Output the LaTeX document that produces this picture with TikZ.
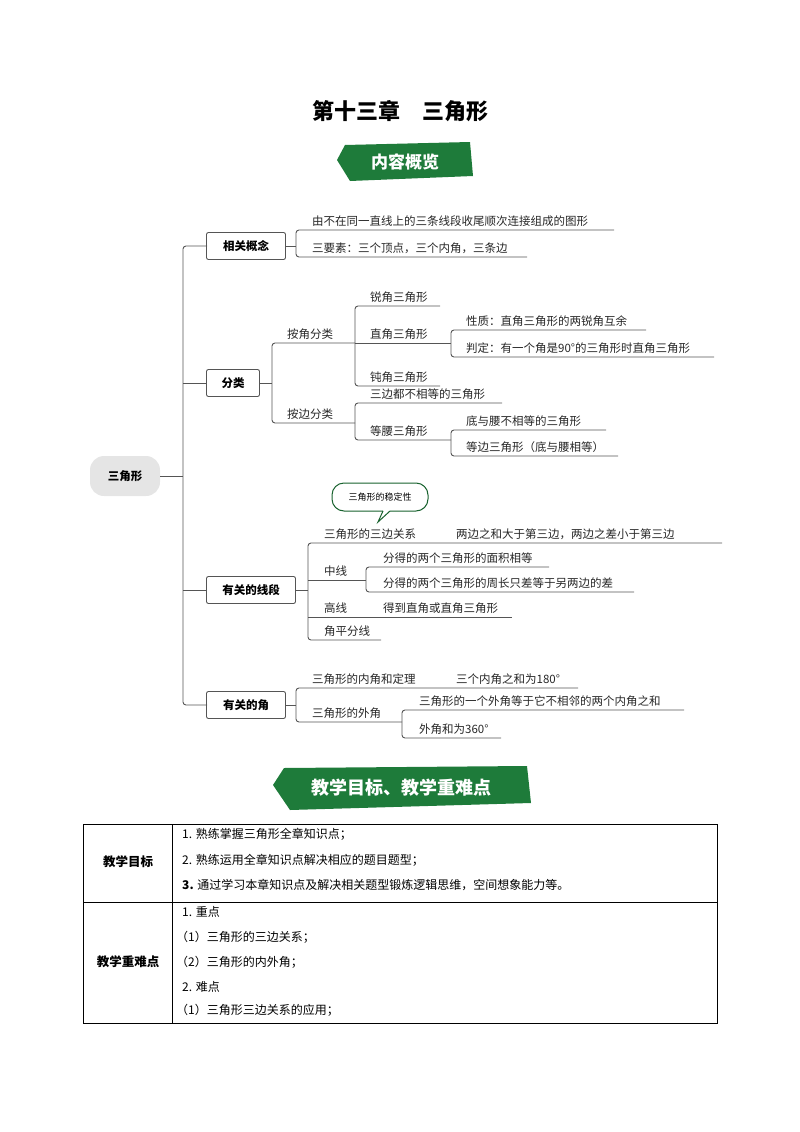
\documentclass[tikz,border=0pt]{standalone}
\usepackage{fontspec}
\setmainfont{Noto Sans CJK SC}
\definecolor{gr}{HTML}{1E7B3A}
\definecolor{ln}{HTML}{555555}
\begin{document}
\begin{tikzpicture}[x=1pt,y=-1pt,
  lk/.style={draw=ln,line width=0.9pt,rounded corners=3pt},
  box/.style={draw=ln,line width=0.9pt,rounded corners=2pt,font=\fontsize{11.5}{13}\selectfont\bfseries,minimum height=27pt,inner sep=0pt},
  tx/.style={anchor=south west,inner sep=1pt,font=\fontsize{11.5}{13}\selectfont,text=black!85},
  tb/.style={anchor=west,inner sep=0pt,font=\fontsize{12}{14}\selectfont}]
\useasboundingbox (0,0) rectangle (800,1132);
\node[font=\fontsize{22}{26}\selectfont\bfseries] (title) at (400,111) {第十三章\hspace{1em}三角形};
% banner 1
\fill[gr] (345,145) -- (470,142) -- (473,176) -- (350,181) -- (337,160) -- cycle;
\node[text=white,font=\fontsize{17}{20}\selectfont\bfseries] (b1) at (405,162) {内容概览};
% root
\node[fill=black!10,rounded corners=14pt,minimum width=70pt,minimum height=40pt,font=\fontsize{11.5}{13}\selectfont\bfseries] (root) at (125,476) {三角形};
\draw[lk] (root.east) -- (183,476);
\draw[lk] (207,246) -- (183,246) -- (183,705) -- (207,705);
\draw[lk] (183,383) -- (207,383);
\draw[lk] (183,590) -- (207,590);
% 相关概念
\node[box,minimum width=79pt] (a) at (246,246) {相关概念};
\draw[lk] (a.east) -- (296,246);
\draw[lk] (614,230) -- (296,230) -- (296,257) -- (527,257);
\node[tx] (a1) at (311,228) {由不在同一直线上的三条线段收尾顺次连接组成的图形};
\node[tx] (a2) at (311,255) {三要素：三个顶点，三个内角，三条边};
% 分类
\node[box,minimum width=53pt] (b) at (233,383) {分类};
\draw[lk] (b.east) -- (272,383);
\draw[lk] (355,343) -- (272,343) -- (272,423) -- (355,423);
\node[tx] (b1t) at (286,341) {按角分类};
\node[tx] (b2t) at (286,421) {按边分类};
\draw[lk] (440,306) -- (355,306) -- (355,386) -- (440,386);
\draw[lk] (355,343) -- (451,343);
\node[tx] (c1) at (369,304) {锐角三角形};
\node[tx] (c2) at (369,341) {直角三角形};
\node[tx] (c3) at (369,384) {钝角三角形};
\draw[lk] (646,330) -- (451,330) -- (451,357) -- (714,357);
\node[tx] (d1) at (465,328) {性质：直角三角形的两锐角互余};
\node[tx] (d2) at (465,355) {判定：有一个角是90°的三角形时直角三角形};
\draw[lk] (502,403) -- (355,403) -- (355,440) -- (451,440);
\node[tx] (c4) at (369,401) {三边都不相等的三角形};
\node[tx] (c5) at (369,438) {等腰三角形};
\draw[lk] (606,430) -- (451,430) -- (451,456) -- (618,456);
\node[tx] (d3) at (465,428) {底与腰不相等的三角形};
\node[tx] (d4) at (465,454) {等边三角形（底与腰相等）};
% 有关的线段
\node[box,minimum width=89pt] (c) at (251,590) {有关的线段};
\draw[lk] (c.east) -- (308,590);
\draw[lk] (722,543) -- (308,543) -- (308,640) -- (381,640);
\draw[lk] (308,580) -- (366,580);
\draw[lk] (308,617) -- (512,617);
\node[tx] (e1) at (323,541) {三角形的三边关系};
\node[tx] (e1b) at (455,541) {两边之和大于第三边，两边之差小于第三边};
\node[tx] (e2) at (323,578) {中线};
\node[tx] (e3) at (323,615) {高线};
\node[tx] (e4) at (323,638) {角平分线};
\node[tx] (e3b) at (382,615) {得到直角或直角三角形};
\draw[lk] (549,567) -- (366,567) -- (366,592) -- (634,592);
\node[tx] (f1) at (382,565) {分得的两个三角形的面积相等};
\node[tx] (f2) at (382,590) {分得的两个三角形的周长只差等于另两边的差};
% callout
\draw[gr!80!black,line width=1pt,fill=white,rounded corners=12pt] (383,511) -- (332,511) -- (332,483) -- (428,483) -- (428,511) -- (390,511);
\draw[gr!80!black,line width=1pt] (383,511) -- (378,522) -- (390,511);
\node[font=\fontsize{9}{10}\selectfont] (call) at (380,497) {三角形的稳定性};
% 有关的角
\node[box,minimum width=79pt] (d) at (246,705) {有关的角};
\draw[lk] (d.east) -- (296,705);
\draw[lk] (578,688) -- (296,688) -- (296,722) -- (402,722);
\node[tx] (g1) at (311,686) {三角形的内角和定理};
\node[tx] (g1b) at (455,686) {三个内角之和为180°};
\node[tx] (g2) at (311,720) {三角形的外角};
\draw[lk] (684,710) -- (402,710) -- (402,738) -- (501,738);
\node[tx] (h1) at (418,708) {三角形的一个外角等于它不相邻的两个内角之和};
\node[tx] (h2) at (418,736) {外角和为360°};
% banner 2
\fill[gr] (284,768) -- (527,766) -- (531,803) -- (290,810) -- (273,785) -- cycle;
\node[text=white,font=\fontsize{18}{21}\selectfont\bfseries] (b2) at (401,788) {教学目标、教学重难点};
% table
\draw[line width=0.7pt] (83,824) rectangle (717,1023);
\draw[line width=0.7pt] (83,902) -- (717,902);
\draw[line width=0.7pt] (172,824) -- (172,1023);
\node[font=\fontsize{12.5}{14}\selectfont\bfseries] (l1) at (128,862) {教学目标};
\node[font=\fontsize{12.5}{14}\selectfont\bfseries] (l2) at (128,962) {教学重难点};
\node[tb] (t1) at (182,834) {1. 熟练掌握三角形全章知识点；};
\node[tb] (t2) at (182,860) {2. 熟练运用全章知识点解决相应的题目题型；};
\node[tb] (t3) at (182,885) {\textbf{3.} 通过学习本章知识点及解决相关题型锻炼逻辑思维，空间想象能力等。};
\node[tb] (t4) at (182,912) {1. 重点};
\node[tb] (t5) at (176,937) {（1）三角形的三边关系；};
\node[tb] (t6) at (176,962) {（2）三角形的内外角；};
\node[tb] (t7) at (182,987) {2. 难点};
\node[tb] (t8) at (176,1010) {（1）三角形三边关系的应用；};
\end{tikzpicture}
\end{document}
